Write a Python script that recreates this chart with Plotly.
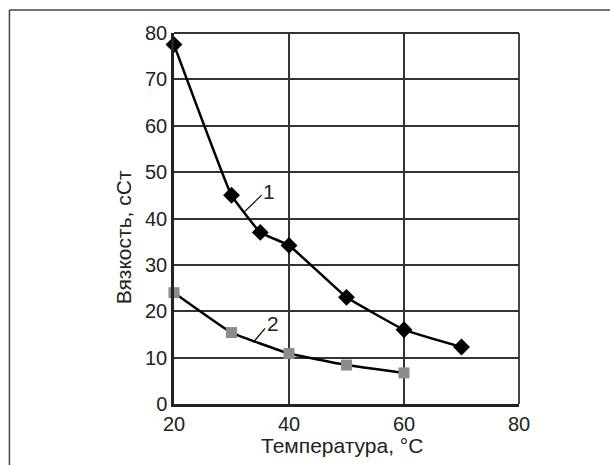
import plotly.graph_objects as go

# Data
temp1 = [20, 30, 35, 40, 50, 60, 70]
visc1 = [77.5, 45, 37, 34.2, 23, 16, 12.3]
temp2 = [20, 30, 40, 50, 60]
visc2 = [24, 15.4, 10.9, 8.4, 6.7]
x_ticks = [20, 40, 60, 80]
y_ticks = [0, 10, 20, 30, 40, 50, 60, 70, 80]

FONT = "Liberation Sans, Arial, sans-serif"
FS = 20
FT = 21

fig = go.Figure()
fig.add_trace(go.Scatter(
    x=temp1, y=visc1, mode="lines+markers",
    line=dict(color="black", width=2.5, shape="spline", smoothing=0.25),
    marker=dict(symbol="diamond", size=13, color="black"),
    showlegend=False, cliponaxis=False))
fig.add_trace(go.Scatter(
    x=temp2, y=visc2, mode="lines+markers",
    line=dict(color="black", width=2.5, shape="spline", smoothing=0.3),
    marker=dict(symbol="square", size=11, color="#8c8c8c"),
    showlegend=False, cliponaxis=False))

# curve labels with leader lines
fig.add_shape(type="line", x0=35.25, y0=45.04, x1=32.23, y1=41.44,
              line=dict(color="black", width=1.2))
fig.add_shape(type="line", x0=35.83, y0=16.31, x1=33.79, y1=13.30,
              line=dict(color="black", width=1.2))
fig.add_annotation(x=36.6, y=45.8, text="1", showarrow=False,
                   font=dict(family=FONT, size=FT, color="#222"))
fig.add_annotation(x=37.2, y=17.4, text="2", showarrow=False,
                   font=dict(family=FONT, size=FT, color="#222"))

# axis titles
fig.add_annotation(xref="paper", yref="paper", x=0.488, y=-0.113, xanchor="center", yanchor="middle",
                   text="Температура, °C", showarrow=False,
                   font=dict(family=FONT, size=FT, color="#222"))
fig.add_annotation(xref="paper", yref="paper", x=-0.148, y=0.449, xanchor="center", yanchor="middle",
                   text="Вязкость, cСт", textangle=-90, showarrow=False,
                   font=dict(family=FONT, size=FT, color="#222"))

# outer frame (left and top)
fig.add_shape(type="line", xref="paper", yref="paper", x0=-0.477, y0=1.062, x1=1.4, y1=1.062,
              line=dict(color="#444", width=1.5))
fig.add_shape(type="line", xref="paper", yref="paper", x0=-0.477, y0=1.062, x1=-0.477, y1=-0.3,
              line=dict(color="#444", width=1.5))

fig.update_layout(
    width=610, height=465,
    margin=dict(l=174, r=91, t=33, b=61),
    paper_bgcolor="white", plot_bgcolor="white",
    font=dict(family=FONT, size=FS, color="#222"),
)
fig.update_xaxes(
    range=[20, 80], tickvals=x_ticks, showgrid=True, gridcolor="#333", gridwidth=1.5,
    showline=True, linecolor="#222", linewidth=2.5, mirror=False, zeroline=False,
    ticks="", tickfont=dict(size=FS),
)
fig.update_yaxes(
    range=[0, 80], tickvals=y_ticks, showgrid=True, gridcolor="#333", gridwidth=1.5,
    showline=True, linecolor="#222", linewidth=2.5, zeroline=False,
    ticks="", tickfont=dict(size=FS),
)
# top and right borders
fig.add_shape(type="line", xref="paper", yref="paper", x0=0, y0=1, x1=1, y1=1,
              line=dict(color="#333", width=1.8))
fig.add_shape(type="line", xref="paper", yref="paper", x0=1, y0=0, x1=1, y1=1,
              line=dict(color="#333", width=1.8))

fig.write_html("out.html")
